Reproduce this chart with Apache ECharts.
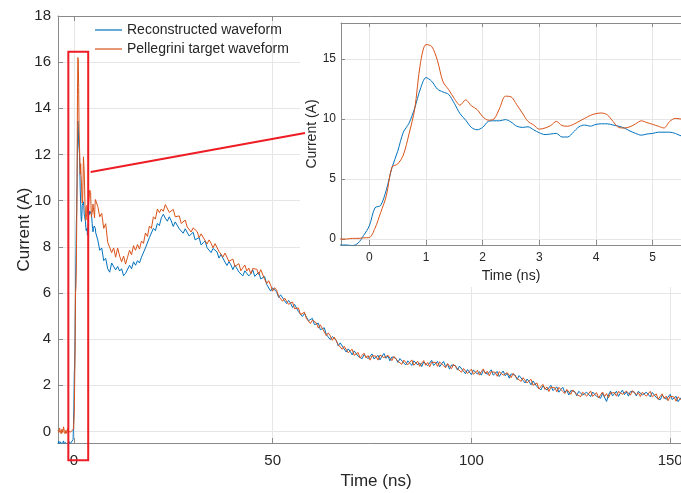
<!DOCTYPE html>
<html>
<head>
<meta charset="utf-8">
<script src="https://cdn.jsdelivr.net/npm/echarts@6/dist/echarts.min.js"></script>
<style>
  html, body { margin: 0; padding: 0; background: #fff; }
  #chart { width: 681px; height: 493px; }
</style>
</head>
<body>
<div id="chart"></div>
<script>
var seriesNames = ['Reconstructed waveform', 'Pellegrini target waveform'];

// sampling grids (ns): baseline, rising edge (shown in the inset), tail
var preStart = -4, preStep = 0.2;
var fineStart = -0.5, fineStep = 0.1;
var coarseStart = 6, coarseStep = 0.5;

// current (A), t = -4 .. -0.6
var reconPre = [-0.55, -0.42, -0.6, -0.45, -0.38, -0.58, -0.5, -0.41, -0.62, -0.47, -0.4, -0.56, -0.48, -0.52, -0.44, -0.6, -0.5, -0.53];
var pellePre = [0.05, -0.05, 0.15, 0.0, -0.1, 0.1, -0.05, 0.2, 0.0, -0.1, 0.05, -0.08, 0.12, 0.0, -0.06, 0.08, -0.02, 0.03];

// current (A), t = -0.5 .. 5.5
var reconFine = [
  -0.5, -0.5, -0.55, -0.35, 0.3, 1.1, 2.6, 2.8, 4.1, 5.95,
  7.3, 8.9, 9.65, 10.9, 12.5, 13.45, 13.15, 12.5, 12.25, 12.05,
  11.3, 10.45, 9.9, 9.3, 9.1, 9.3, 9.8, 9.85, 9.85, 9.95,
  9.75, 9.4, 9.3, 9.35, 9.1, 8.85, 8.7, 8.75, 8.8, 8.5,
  8.5, 8.9, 9.35, 9.5, 9.4, 9.55, 9.6, 9.6, 9.5, 9.4,
  9.25, 9.0, 8.8, 8.65, 8.75, 8.8, 8.9, 8.9, 8.9, 8.8,
  8.6
];
var pelleFine = [
  0.0, 0.0, 0.05, 0.05, 0.1, 0.12, 0.9, 2.2, 3.6, 6.0,
  6.25, 7.0, 8.75, 10.8, 14.6, 16.2, 16.05, 14.9, 13.1, 12.45,
  11.7, 11.15, 11.6, 11.1, 10.8, 10.2, 9.9, 10.0, 10.9, 11.9,
  11.85, 11.2, 10.5, 9.8, 9.5, 9.15, 9.25, 9.45, 9.8, 9.45,
  9.4, 9.55, 9.8, 10.05, 10.3, 10.45, 10.5, 10.35, 9.8, 9.3,
  9.25, 9.35, 9.6, 9.85, 9.7, 9.55, 9.4, 9.25, 9.8, 10.05,
  10.0
];

// current (A), t = 6 .. 153
var reconCoarse = [
  8.3, 7.85, 7.95, 7.4, 7.5, 7.05, 6.9, 7.3, 7.25, 7.0,
  7.15, 6.95, 7.05, 6.75, 6.85, 6.8, 7.2, 7.05, 7.35, 7.2,
  7.4, 7.3, 7.55, 7.5, 7.95, 7.95, 8.4, 8.35, 8.8, 8.7,
  9.01, 8.92, 9.26, 9.41, 9.24, 9.11, 9.3, 9.12, 8.88, 9.08,
  9.04, 8.78, 8.84, 8.59, 8.78, 8.77, 8.47, 8.51, 8.63, 8.3,
  8.3, 8.4, 8.08, 8.17, 8.26, 7.96, 8.04, 7.75, 7.93, 7.91,
  7.78, 7.51, 7.67, 7.64, 7.34, 7.19, 7.36, 7.22, 7.01, 7.21,
  7.17, 6.91, 6.97, 6.74, 6.96, 6.99, 6.74, 6.83, 7.0, 6.72,
  6.76, 6.9, 6.61, 6.67, 6.71, 6.37, 6.41, 6.08, 6.22, 6.16,
  6.05, 5.81, 5.92, 5.9, 5.66, 5.54, 5.68, 5.56, 5.37, 5.51,
  5.45, 5.19, 5.21, 4.98, 5.11, 5.07, 4.8, 4.81, 4.9, 4.63,
  4.61, 4.69, 4.41, 4.46, 4.49, 4.2, 4.24, 3.98, 4.11, 4.07,
  3.95, 3.71, 3.84, 3.82, 3.57, 3.44, 3.58, 3.47, 3.32, 3.49,
  3.47, 3.26, 3.33, 3.15, 3.33, 3.36, 3.15, 3.22, 3.36, 3.14,
  3.17, 3.3, 3.1, 3.26, 3.38, 3.17, 3.27, 3.06, 3.23, 3.23,
  3.17, 2.99, 3.16, 3.17, 2.97, 2.88, 3.06, 2.99, 2.86, 3.06,
  3.06, 2.88, 2.97, 2.81, 3.01, 3.05, 2.85, 2.93, 3.08, 2.86,
  2.9, 3.03, 2.8, 2.93, 3.03, 2.81, 2.91, 2.7, 2.88, 2.89,
  2.85, 2.66, 2.83, 2.83, 2.61, 2.5, 2.68, 2.6, 2.46, 2.66,
  2.66, 2.49, 2.59, 2.44, 2.65, 2.68, 2.47, 2.54, 2.67, 2.44,
  2.47, 2.6, 2.38, 2.51, 2.62, 2.41, 2.52, 2.31, 2.49, 2.5,
  2.44, 2.25, 2.42, 2.43, 2.21, 2.1, 2.27, 2.17, 2.02, 2.19,
  2.17, 1.94, 1.99, 1.8, 1.98, 2.0, 1.79, 1.86, 2.0, 1.77,
  1.8, 1.93, 1.7, 1.82, 1.91, 1.69, 1.79, 1.58, 1.77, 1.78,
  1.73, 1.55, 1.74, 1.77, 1.58, 1.51, 1.7, 1.64, 1.51, 1.71,
  1.71, 1.52, 1.6, 1.44, 1.65, 1.69, 1.3, 1.59, 1.75, 1.54,
  1.59, 1.74, 1.52, 1.67, 1.79, 1.59, 1.72, 1.53, 1.73, 1.75,
  1.71, 1.54, 1.74, 1.77, 1.58, 1.5, 1.7, 1.63, 1.5, 1.69,
  1.67, 1.47, 1.54, 1.37, 1.57, 1.6, 1.39, 1.46, 1.61, 1.38,
  1.4, 1.52, 1.29, 1.41, 1.51
];
var pelleCoarse = [
  9.75, 9.3, 9.45, 8.8, 9.0, 8.2, 8.15, 7.75, 7.95, 7.55,
  7.95, 7.6, 7.35, 7.6, 7.25, 7.55, 7.85, 7.65, 8.05, 7.85,
  8.1, 7.9, 8.25, 8.15, 8.6, 8.45, 8.9, 8.8, 9.3, 9.2,
  9.64, 9.48, 9.64, 9.54, 9.83, 9.83, 9.49, 9.49, 9.62, 9.3,
  9.25, 9.34, 9.01, 9.09, 9.16, 8.86, 8.93, 8.64, 8.82, 8.79,
  8.66, 8.4, 8.56, 8.55, 8.27, 8.12, 8.3, 8.16, 7.95, 8.14,
  8.09, 7.8, 7.84, 7.56, 7.73, 7.69, 7.37, 7.38, 7.47, 7.15,
  7.15, 7.27, 6.96, 7.09, 7.21, 6.95, 7.08, 6.83, 7.06, 7.09,
  7.03, 6.8, 7.01, 6.94, 6.59, 6.41, 6.53, 6.34, 6.08, 6.23,
  6.12, 5.86, 5.86, 5.64, 5.78, 5.77, 5.51, 5.53, 5.61, 5.32,
  5.29, 5.35, 5.06, 5.13, 5.17, 4.89, 4.94, 4.68, 4.82, 4.8,
  4.7, 4.48, 4.62, 4.57, 4.31, 4.15, 4.27, 4.14, 3.95, 4.09,
  4.02, 3.76, 3.78, 3.56, 3.69, 3.67, 3.41, 3.44, 3.56, 3.3,
  3.31, 3.42, 3.18, 3.3, 3.39, 3.18, 3.29, 3.09, 3.28, 3.31,
  3.26, 3.09, 3.31, 3.37, 3.2, 3.12, 3.3, 3.22, 3.07, 3.25,
  3.24, 3.04, 3.1, 2.91, 3.09, 3.11, 2.89, 2.96, 3.1, 2.87,
  2.9, 3.04, 2.82, 2.96, 3.07, 2.87, 2.99, 2.8, 3.0, 3.03,
  2.99, 2.82, 3.01, 3.04, 2.85, 2.76, 2.94, 2.86, 2.72, 2.91,
  2.92, 2.71, 2.77, 2.57, 2.73, 2.73, 2.51, 2.57, 2.7, 2.47,
  2.5, 2.65, 2.44, 2.59, 2.71, 2.5, 2.61, 2.41, 2.59, 2.61,
  2.56, 2.39, 2.59, 2.62, 2.44, 2.36, 2.55, 2.47, 2.33, 2.52,
  2.51, 2.3, 2.36, 2.17, 2.33, 2.33, 2.1, 2.14, 2.26, 2.0,
  2.01, 2.1, 1.84, 1.95, 2.04, 1.82, 1.93, 1.73, 1.92, 1.94,
  1.89, 1.72, 1.91, 1.93, 1.73, 1.64, 1.82, 1.74, 1.61, 1.8,
  1.8, 1.6, 1.68, 1.51, 1.7, 1.74, 1.53, 1.61, 1.75, 1.52,
  1.55, 1.68, 1.45, 1.59, 1.71, 1.51, 1.64, 1.46, 1.67, 1.71,
  1.68, 1.53, 1.73, 1.78, 1.61, 1.54, 1.75, 1.69, 1.57, 1.77,
  1.78, 1.59, 1.68, 1.51, 1.7, 1.73, 1.53, 1.6, 1.74, 1.5,
  1.51, 1.63, 1.39, 1.52, 1.63, 1.42, 1.53, 1.33, 1.53, 1.55,
  1.49, 1.31, 1.5, 1.52, 1.33
];

// red zoom box on the main plot, in main axis units (ns, A)
var zoomBox = { t0: -1.4, t1: 3.6, i0: -1.25, i1: 16.45 };
var pointerFrom = [4.2, 11.24];

function toPairs(start, step, vals) {
  return vals.map(function (v, i) { return [+(start + i * step).toFixed(2), v]; });
}
var recon = toPairs(preStart, preStep, reconPre).concat(toPairs(fineStart, fineStep, reconFine), toPairs(coarseStart, coarseStep, reconCoarse));
var pelle = toPairs(preStart, preStep, pellePre).concat(toPairs(fineStart, fineStep, pelleFine), toPairs(coarseStart, coarseStep, pelleCoarse));

var blue = '#0072BD', orange = '#D95319';
var textColor = '#262626', axisColor = '#8a8a8a', gridColor = '#e6e6e6';
var font = 'Liberation Sans, Arial, Helvetica, sans-serif';

function axisBase(extra) {
  var a = {
    type: 'value',
    axisLine: { onZero: false, lineStyle: { color: axisColor, width: 1 } },
    axisTick: { inside: true, length: 5, lineStyle: { color: axisColor } },
    splitLine: { show: true, lineStyle: { color: gridColor, width: 1 } },
    nameLocation: 'middle',
    nameMoveOverlap: false
  };
  for (var k in extra) a[k] = extra[k];
  return a;
}

var chart = echarts.init(document.getElementById('chart'), null, { renderer: 'canvas' });
var option = {
  animation: false,
  backgroundColor: '#fff',
  textStyle: { fontFamily: font },
  grid: [
    { left: 58, top: 16, right: -13, height: 427, outerBoundsMode: 'none' },
    { left: 341, top: 23, right: 0, height: 222, outerBoundsMode: 'none' }
  ],
  legend: {
    orient: 'vertical', left: 95, top: 23, padding: 0,
    icon: 'rect', itemWidth: 27, itemHeight: 1.2, itemGap: 5,
    textStyle: { fontSize: 14, color: textColor, fontFamily: font },
    data: seriesNames
  },
  xAxis: [
    axisBase({
      gridIndex: 0, min: -4, max: 156, splitNumber: 3,
      axisLabel: { color: textColor, fontSize: 15, margin: 10, showMinLabel: false, showMaxLabel: false, fontFamily: font },
      name: 'Time (ns)', nameGap: 30,
      nameTextStyle: { fontSize: 17, color: textColor, fontFamily: font }
    }),
    axisBase({
      gridIndex: 0, position: 'top', min: -4, max: 156, splitNumber: 3,
      axisLabel: { show: false }, splitLine: { show: false }
    }),
    axisBase({
      gridIndex: 1, min: -0.5, max: 5.5, splitNumber: 6, z: 10,
      axisLabel: { color: textColor, fontSize: 12, margin: 7, showMinLabel: false, showMaxLabel: false, fontFamily: font },
      name: 'Time (ns)', nameGap: 24,
      nameTextStyle: { fontSize: 14, color: textColor, fontFamily: font }
    }),
    axisBase({
      gridIndex: 1, position: 'top', min: -0.5, max: 5.5, splitNumber: 6, z: 10,
      axisLabel: { show: false }, splitLine: { show: false }, axisTick: { inside: true, length: 4, lineStyle: { color: axisColor } }
    })
  ],
  yAxis: [
    axisBase({
      gridIndex: 0, min: -0.5, max: 18, splitNumber: 9,
      axisLabel: { color: textColor, fontSize: 15, margin: 7, showMinLabel: false, fontFamily: font },
      name: 'Current (A)', nameGap: 25,
      nameTextStyle: { fontSize: 17, color: textColor, fontFamily: font }
    }),
    axisBase({
      gridIndex: 1, min: -0.5, max: 18, splitNumber: 4, z: 10,
      axisTick: { inside: true, length: 4, lineStyle: { color: axisColor } },
      axisLabel: { color: textColor, fontSize: 12, margin: 5, showMinLabel: false, showMaxLabel: false, fontFamily: font },
      name: 'Current (A)', nameGap: 22,
      nameTextStyle: { fontSize: 14, color: textColor, fontFamily: font }
    })
  ],
  series: [
    { name: seriesNames[0], type: 'line', xAxisIndex: 0, yAxisIndex: 0, data: recon, symbol: 'none', silent: true,
      lineStyle: { color: blue, width: 1 }, itemStyle: { color: blue }, z: 2 },
    { name: seriesNames[1], type: 'line', xAxisIndex: 0, yAxisIndex: 0, data: pelle, symbol: 'none', silent: true,
      lineStyle: { color: orange, width: 1 }, itemStyle: { color: orange }, z: 3 },
    { name: seriesNames[0], type: 'line', xAxisIndex: 2, yAxisIndex: 1, data: recon, symbol: 'none', silent: true, smooth: 0.3,
      lineStyle: { color: blue, width: 1 }, itemStyle: { color: blue }, z: 12 },
    { name: seriesNames[1], type: 'line', xAxisIndex: 2, yAxisIndex: 1, data: pelle, symbol: 'none', silent: true, smooth: 0.3,
      lineStyle: { color: orange, width: 1 }, itemStyle: { color: orange }, z: 13 }
  ]
};
chart.setOption(option);

// inset backdrop and the red zoom marker
var main = { xAxisIndex: 0, yAxisIndex: 0 };
var p0 = chart.convertToPixel(main, [zoomBox.t0, zoomBox.i1]);
var p1 = chart.convertToPixel(main, [zoomBox.t1, zoomBox.i0]);
var pf = chart.convertToPixel(main, pointerFrom);
chart.setOption({
  graphic: { elements: [
    { type: 'rect', z: 5, silent: true, shape: { x: 300, y: 17, width: 381, height: 270 }, style: { fill: '#fff' } },
    { type: 'rect', z: 30, silent: true, shape: { x: p0[0], y: p0[1], width: p1[0] - p0[0], height: p1[1] - p0[1] },
      style: { fill: 'none', stroke: '#ee1c24', lineWidth: 2 } },
    { type: 'line', z: 30, silent: true, shape: { x1: pf[0], y1: pf[1], x2: 305, y2: 133 },
      style: { stroke: '#ee1c24', lineWidth: 2 } }
  ] }
});
</script>
</body>
</html>
